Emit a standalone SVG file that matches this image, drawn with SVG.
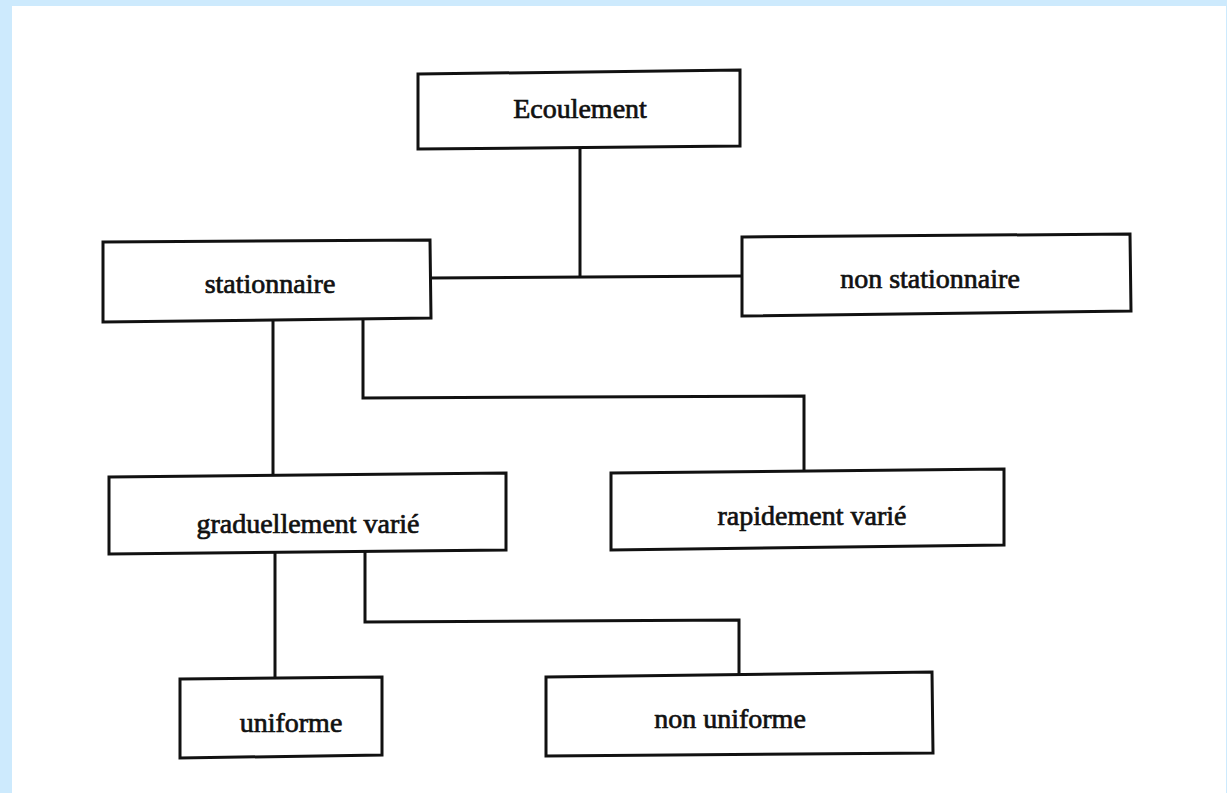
<svg xmlns="http://www.w3.org/2000/svg" width="1227" height="793" viewBox="0 0 1227 793">
  <style>
    .box { fill: #ffffff; stroke: #111111; stroke-width: 3; stroke-linejoin: miter; }
    .lbl { font-family: "Liberation Serif", "Times New Roman", serif; font-size: 28px; fill: #111111; stroke: #111111; stroke-width: 0.7; text-anchor: middle; }
    .conn { fill: none; stroke: #111111; stroke-width: 3; stroke-linejoin: miter; }
  </style>
  <rect x="0" y="0" width="1227" height="793" fill="#cdeafd"/>
  <rect x="12" y="6" width="1214" height="787" fill="#ffffff"/>

  <g id="connectors">
    <path class="conn" d="M580,148 L580,277"/>
    <path class="conn" d="M430,278 L742,276"/>
    <path class="conn" d="M273,321 L273,477"/>
    <path class="conn" d="M363,320 L363,398 L804,396 L804,470"/>
    <path class="conn" d="M275,553 L275,678"/>
    <path class="conn" d="M365,552 L365,622 L739,620 L739,675"/>
  </g>

  <g id="node-ecoulement">
    <path class="box" d="M418,74 L740,70 L740,146 L418,149 Z"/>
    <text class="lbl" x="580" y="118">Ecoulement</text>
  </g>
  <g id="node-stationnaire">
    <path class="box" d="M103,242 L430,240 L431,318 L103,322 Z"/>
    <text class="lbl" x="270" y="293">stationnaire</text>
  </g>
  <g id="node-non-stationnaire">
    <path class="box" d="M742,237 L1130,234 L1131,311 L742,316 Z"/>
    <text class="lbl" x="930" y="288">non stationnaire</text>
  </g>
  <g id="node-graduellement-varie">
    <path class="box" d="M109,477 L506,473 L506,550 L109,554 Z"/>
    <text class="lbl" x="308" y="533">graduellement varié</text>
  </g>
  <g id="node-rapidement-varie">
    <path class="box" d="M611,473 L1004,469 L1004,545 L611,550 Z"/>
    <text class="lbl" x="812" y="525">rapidement varié</text>
  </g>
  <g id="node-uniforme">
    <path class="box" d="M180,679 L382,677 L382,755 L180,758 Z"/>
    <text class="lbl" x="291" y="732">uniforme</text>
  </g>
  <g id="node-non-uniforme">
    <path class="box" d="M546,677 L932,672 L933,753 L546,756 Z"/>
    <text class="lbl" x="730" y="728">non uniforme</text>
  </g>
</svg>
